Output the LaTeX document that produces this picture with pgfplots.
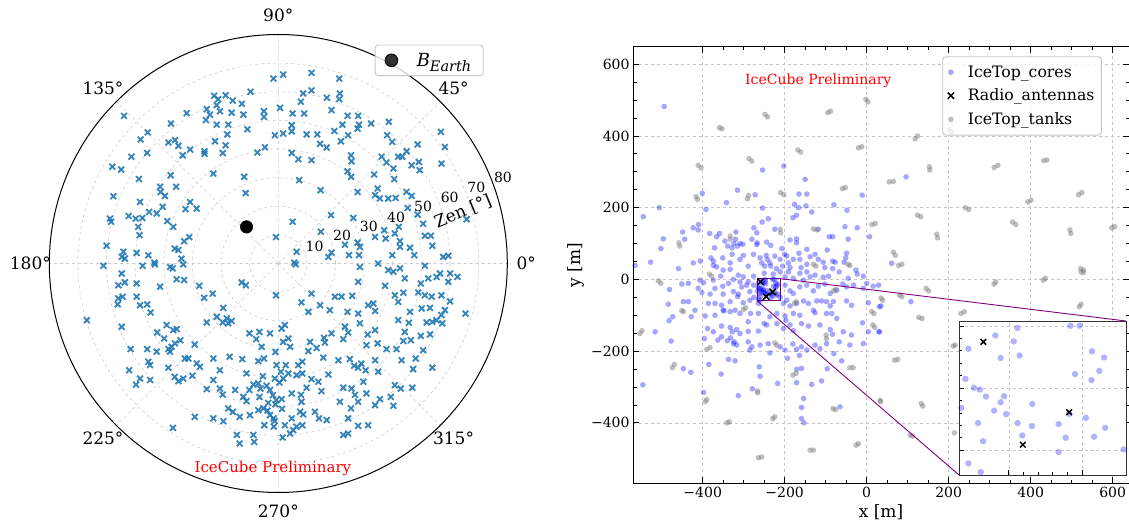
\documentclass[border=0pt]{standalone}
\usepackage{pgfplots}
\pgfplotsset{compat=1.18}
\usepgfplotslibrary{polar}
\usepackage{fontspec}
\setmainfont{DejaVu Serif}
\definecolor{mplblue}{HTML}{1F77B4}
\definecolor{icered}{HTML}{FF0000}
\definecolor{inspurple}{HTML}{800080}
\newcommand{\fs}[1]{\fontsize{#1bp}{#1bp}\selectfont}

\begin{document}
\begin{tikzpicture}
\path[use as bounding box] (0,0) rectangle (1129bp,528bp);

% ---------------- left: arrival directions ----------------
\begin{polaraxis}[
  at={(278.3bp,264.5bp)}, anchor=center,
  scale only axis, width=458bp, height=458bp,
  ymin=0, ymax=80,
  xtick={0,45,...,315}, xticklabels={},
  ytick={10,20,...,70}, yticklabels={},
  tick style={draw=none},
  grid=major,
  major grid style={dashed, gray!40, line width=0.6bp},
  x axis line style={black, line width=1bp},
  y axis line style={draw=none},
  clip=false,
  legend image code/.code={\draw[mark repeat=2, mark phase=2, #1] plot coordinates {(0bp,0bp) (17bp,0bp) (34bp,0bp)};},
  legend style={at={(0.7105,0.978)}, anchor=north west, font=\fs{18},
    draw=black!22, line width=0.9bp, rounded corners=3bp, fill=white,
    fill opacity=0.8, text opacity=1, column sep=17bp,
    inner xsep=10bp, inner ysep=6bp},
]
\addplot[only marks, data cs=cart, mark=x, mark size=4.1bp, forget plot,
  mark options={line width=1.8bp, draw=mplblue, draw opacity=0.9}] table {
x y
-1.7 64.6
-9.7 60.0
-22.4 58.6
-21.0 57.4
-18.4 58.8
-15.9 56.9
-12.7 55.8
-25.0 53.9
-23.9 52.0
-21.5 55.3
-20.4 53.2
-25.3 50.1
-21.5 48.5
-17.5 48.5
-16.3 52.7
-12.2 52.0
-5.0 53.2
-5.0 51.2
-53.9 51.6
-32.0 52.5
-37.5 48.9
-45.6 45.8
-48.1 43.3
-38.4 42.3
-36.1 43.1
-34.9 41.1
-33.4 37.8
-30.8 39.8
-25.8 39.2
-25.8 38.3
-22.1 42.7
-18.4 41.3
-19.4 38.6
-17.8 45.1
-10.8 46.9
-7.3 38.8
-4.7 40.6
-1.2 44.8
-58.0 33.8
-54.9 32.8
-51.3 37.3
-45.8 38.6
-37.6 30.8
-35.7 26.8
-48.7 29.5
-41.3 26.8
-41.1 25.0
-39.6 23.6
-57.6 23.5
-48.3 21.5
-45.1 18.0
-42.5 17.5
-40.4 19.8
-52.3 16.6
-49.8 15.7
-47.5 15.9
-58.8 15.7
-58.4 14.6
-48.9 12.8
-48.5 9.9
-38.8 14.8
-36.7 12.8
-32.4 19.0
-30.8 21.5
-28.5 19.2
-22.7 31.4
-11.9 30.3
-11.4 24.6
-60.0 6.2
-54.1 4.1
-54.7 2.3
-53.6 1.7
-49.5 3.7
-45.4 2.9
-43.3 0.3
-36.2 5.2
-34.9 4.7
-33.8 1.7
-32.9 7.8
-31.1 9.2
-0.8 9.2
1.7 66.0
11.6 66.6
21.3 64.6
11.6 60.5
8.7 59.4
7.9 56.5
21.5 59.4
21.3 57.4
17.0 57.9
18.6 53.6
5.0 52.4
9.0 52.4
0.6 54.4
24.2 51.6
27.9 51.6
28.2 48.5
32.4 48.9
38.6 49.5
22.4 48.5
19.6 46.3
24.4 44.8
27.7 47.1
21.9 42.7
4.7 48.3
1.7 45.4
4.7 46.2
9.9 45.1
13.6 45.1
14.6 41.8
16.9 40.5
38.0 44.8
39.8 42.5
56.8 46.0
58.2 40.7
57.0 34.9
48.7 41.6
44.8 39.2
43.3 37.3
41.9 37.3
36.1 37.3
37.8 35.3
40.2 33.2
46.6 34.3
49.1 35.5
49.4 32.6
4.7 38.6
7.0 36.4
11.6 36.1
25.4 37.8
25.6 35.7
24.2 32.2
25.4 30.3
33.5 31.1
7.3 29.1
14.8 25.6
27.7 25.0
34.7 26.2
33.8 23.9
35.5 22.7
38.4 22.7
41.0 22.9
40.5 29.5
44.8 25.0
46.6 23.6
45.2 19.4
48.7 17.1
50.6 13.9
51.2 9.7
53.3 9.7
53.8 6.2
57.6 2.3
59.4 2.7
65.8 15.5
18.4 16.9
26.2 15.9
5.0 14.6
14.9 11.1
23.3 6.6
27.7 7.3
28.5 5.8
28.2 2.9
33.8 9.3
37.0 11.6
37.5 8.7
40.7 10.5
42.1 12.8
42.5 7.8
42.5 5.8
46.0 5.5
47.5 2.9
39.8 2.9
6.4 4.1
18.6 3.8
17.5 2.3
24.7 2.9
5.6 0.3
-61.1 -0.8
-54.7 -3.5
-47.4 -0.8
-43.1 -0.3
-37.8 -1.2
-36.9 -1.7
-33.2 -0.3
-35.5 -5.5
-32.9 -5.8
-55.9 -7.6
-53.6 -6.6
-49.5 -7.0
-41.3 -8.1
-55.9 -12.2
-54.4 -11.6
-56.1 -14.3
-49.5 -11.6
-48.3 -14.6
-45.8 -14.3
-44.6 -17.1
-66.9 -19.8
-54.7 -22.1
-51.6 -29.9
-45.8 -29.9
-42.5 -30.8
-45.4 -34.3
-44.8 -35.5
-52.1 -37.3
-48.3 -40.2
-49.7 -42.3
-44.8 -40.7
-42.3 -24.1
-39.9 -26.2
-39.0 -21.5
-36.7 -23.3
-35.5 -22.9
-34.2 -26.8
-38.4 -29.9
-37.3 -29.1
-36.1 -27.9
-37.8 -30.8
-38.4 -36.4
-36.2 -39.6
-34.9 -41.1
-33.2 -40.2
-32.6 -33.2
-31.4 -33.2
-29.2 -28.3
-30.0 -39.2
-28.5 -34.9
-27.4 -36.1
-27.6 -7.8
-25.9 -12.0
-22.9 -10.5
-19.2 -15.5
-25.0 -20.6
-21.5 -18.6
-19.4 -20.6
-18.0 -19.2
-17.5 -20.9
-16.3 -20.1
-12.8 -6.6
-11.3 -7.6
-0.8 -11.1
-22.7 -33.2
-20.4 -37.3
-17.0 -32.6
-12.6 -33.4
-11.1 -38.4
-10.1 -24.4
-7.7 -26.4
-6.6 -23.9
-5.8 -29.1
-2.9 -24.4
-7.0 -34.1
-5.0 -33.2
-25.0 -43.9
-22.7 -40.7
-20.4 -43.7
-19.4 -45.8
-15.1 -44.2
-10.1 -44.2
-8.7 -42.3
-7.0 -41.9
-6.2 -43.7
-4.1 -42.7
-2.9 -44.2
-1.2 -40.2
-12.2 -46.6
-11.1 -48.1
-17.5 -50.6
-15.9 -51.8
-13.5 -53.6
-9.9 -53.0
-7.0 -51.2
-5.2 -50.6
-2.9 -53.0
-1.7 -54.1
-22.7 -54.1
-19.2 -55.1
-29.2 -53.6
-36.8 -57.4
-14.5 -59.9
-13.5 -62.9
-8.7 -59.9
-8.4 -62.3
-0.6 -35.5
-1.0 -30.9
-1.9 -46.0
-1.0 -49.2
1.3 -50.8
0.4 -41.6
-3.5 -48.7
-1.6 -57.0
1.5 -60.8
-5.4 -39.4
-0.7 -47.7
-1.3 -55.0
-3.8 -51.4
-4.9 -56.5
-6.6 -46.6
6.1 -0.3
28.5 -1.2
34.9 0.0
38.4 -2.3
40.2 -2.9
42.5 -1.7
44.2 -5.2
27.9 -6.4
37.3 -7.8
43.7 -10.2
40.7 -11.1
41.9 -13.4
48.9 -10.1
51.2 -0.8
49.8 -7.0
52.4 -5.2
55.3 -4.7
56.5 -3.5
60.0 -3.5
62.6 -4.7
59.4 -6.4
51.2 -11.1
53.6 -11.6
57.0 -11.1
60.0 -13.2
58.2 -16.3
57.0 -18.0
55.3 -19.8
57.3 -20.9
53.8 -20.4
51.8 -20.6
50.1 -15.7
53.0 -15.5
65.4 -17.5
46.0 -16.9
41.9 -19.8
45.6 -20.7
44.2 -23.9
46.3 -26.8
49.8 -25.3
53.0 -24.8
50.6 -30.3
48.0 -33.2
47.1 -36.9
53.8 -36.4
43.7 -27.1
41.3 -29.9
43.1 -33.8
37.8 -29.9
34.7 -27.9
33.8 -23.3
31.2 -24.8
30.8 -28.5
27.9 -17.5
28.5 -20.9
31.4 -14.6
33.2 -14.0
33.8 -16.6
24.2 -16.9
23.3 -22.1
24.4 -24.1
22.7 -26.4
25.8 -11.3
22.1 -11.6
19.8 -11.6
18.0 -16.3
14.6 -14.6
11.6 -10.5
8.1 -13.6
10.5 -16.9
2.3 -21.5
1.2 -22.7
4.1 -29.1
1.7 -27.4
11.1 -27.4
10.5 -30.6
13.4 -29.5
16.3 -27.6
15.7 -32.9
18.6 -24.4
21.0 -33.8
25.0 -33.4
27.9 -36.4
26.5 -35.7
30.5 -37.3
34.9 -37.8
33.8 -33.8
40.7 -42.5
42.8 -43.7
46.8 -43.4
39.3 -46.6
40.2 -49.7
33.8 -49.5
35.5 -47.4
30.8 -45.4
29.7 -41.3
27.9 -48.3
26.8 -45.9
25.4 -50.6
25.6 -43.7
22.7 -43.4
21.5 -48.3
17.5 -38.8
14.0 -41.3
15.1 -44.6
11.6 -40.4
9.9 -43.4
7.9 -45.9
4.7 -45.4
7.0 -35.5
8.4 -34.3
2.6 -35.5
0.9 -37.8
1.2 -47.4
8.1 -48.3
7.6 -51.8
8.7 -52.7
12.8 -51.8
14.2 -54.1
16.9 -54.7
4.7 -54.1
5.2 -58.2
2.3 -56.5
8.4 -56.5
24.4 -54.1
27.9 -56.7
31.4 -56.5
22.7 -59.9
24.4 -59.4
3.5 -26.2
3.5 -38.4
1.7 -40.2
6.4 -39.0
8.4 -38.4
4.1 -59.4
6.4 -57.0
29.0 -35.0
16.0 -26.0
}
;
\addplot[only marks, data cs=cart, mark=*, mark size=6.3bp, black] coordinates {(-11.1,12.8)};
\addlegendentry{\textit{B}\raisebox{-0.3em}{\fs{14.5}\textit{Earth}}}

\node[font=\fs{17}] at (axis cs:0,86.6) {0°};
\node[font=\fs{17}] at (axis cs:45,86.6) {45°};
\node[font=\fs{17}] at (axis cs:90,86.6) {90°};
\node[font=\fs{17}] at (axis cs:135,86.6) {135°};
\node[font=\fs{17}] at (axis cs:180,86.6) {180°};
\node[font=\fs{17}] at (axis cs:225,86.6) {225°};
\node[font=\fs{17}] at (axis cs:270,86.6) {270°};
\node[font=\fs{17}] at (axis cs:315,86.6) {315°};
\node[font=\fs{14}] at (axis cs:24.9,14.0) {10};
\node[font=\fs{14}] at (axis cs:23.5,24.3) {20};
\node[font=\fs{14}] at (axis cs:22.4,34.2) {30};
\node[font=\fs{14}] at (axis cs:21.5,44.2) {40};
\node[font=\fs{14}] at (axis cs:21.4,54.3) {50};
\node[font=\fs{14}] at (axis cs:21.1,64.2) {60};
\node[font=\fs{14}] at (axis cs:21.0,74.1) {70};
\node[font=\fs{14}] at (axis cs:20.9,84.0) {80};
\node[font=\fs{17}, rotate=22.5] at (axis cs:15.7,67) {Zen [°]};
\node[font=\fs{15}, text=icered] at (axis cs:268.5,71.8) {IceCube Preliminary};
\end{polaraxis}

% ---------------- right: footprint ----------------
\begin{axis}[
  at={(633bp,44.5bp)}, anchor=south west,
  scale only axis, width=496bp, height=436.5bp,
  xmin=-570, xmax=640, ymin=-569, ymax=648,
  xtick={-400,-200,0,200,400,600},
  xticklabels={−400,−200,0,200,400,600},
  ytick={-400,-200,0,200,400,600},
  yticklabels={−400,−200,0,200,400,600},
  minor x tick num=3, minor y tick num=3,
  tick align=inside, tick pos=both,
  major tick length=6bp, minor tick length=3.5bp,
  tick style={black, line width=0.8bp},
  grid=major,
  major grid style={dashed, gray!45, line width=0.5bp},
  axis line style={line width=1bp},
  ticklabel style={font=\fs{14}},
  xlabel={x [m]}, ylabel={y [m]},
  label style={font=\fs{17}},
  legend cell align=left,
  legend image code/.code={\draw[mark repeat=2, mark phase=2, #1] plot coordinates {(0bp,0bp) (17bp,0bp) (34bp,0bp)};},
  legend style={at={(0.6236,0.9787)}, anchor=north west, font=\fs{15.7},
    draw=black!22, line width=0.9bp, rounded corners=3bp, fill=white,
    fill opacity=0.8, text opacity=1, row sep=6.3bp, column sep=11.7bp,
    inner xsep=5bp, inner ysep=7bp},
]
\addplot[only marks, mark=*, mark size=2.8bp, color=blue,
  mark options={draw opacity=0, fill=blue, fill opacity=0.35}] table {
x y
-494 482
-202 316
-254 305
-150 279
-315 249
-401 240
-272 236
-165 238
-146 238
-11 235
-342 214
-176 209
-506 200
-166 200
-254 199
-80 208
-392 195
-148 205
-48 193
-134 188
-545 175
-171 179
-180 172
-240 169
-255 160
-410 153
-423 144
-411 138
-275 144
-268 130
-224 140
-53 147
-23 144
-449 132
-383 128
-359 128
-319 132
-118 140
-83 119
-91 119
7 119
-496 113
-444 112
-366 119
-346 107
-320 112
-324 100
-309 100
-280 112
-267 102
-244 104
-187 110
-171 113
-45 112
-502 86
-371 88
-339 93
-328 88
-315 93
-302 98
-268 97
-234 95
-207 86
-200 70
-171 102
-146 84
-96 82
-49 73
-380 60
-406 51
-423 46
-374 51
-351 60
-333 46
-328 70
-309 56
-301 67
-276 70
-260 60
-245 67
-242 56
-236 46
-224 65
-211 56
-195 65
-191 46
-179 56
-165 73
-163 56
-146 42
-138 63
-126 70
-118 56
-106 48
-83 51
-77 48
-55 48
-51 60
-26 26
-527 48
-565 39
-459 30
-366 35
-333 28
-289 37
-256 46
-249 37
-234 37
-220 30
-205 37
-187 33
-160 33
-102 33
-83 30
-350 26
-374 39
96 286
61 45
108 -62
35 -74
31 -146
-407 -2
-398 -9
-374 -2
-356 9
-325 0
-313 12
-309 -7
-301 7
-289 -7
-276 9
-250 17
-228 15
-211 21
-199 7
-191 21
-179 3
-163 17
-154 -2
-146 21
-138 7
-126 12
-106 6
-93 9
-67 21
-45 3
-32 -16
-23 15
-8 9
0 -11
16 -19
29 -16
-481 -28
-451 -13
-435 -11
-411 -25
-402 -37
-382 -41
-370 -25
-351 -19
-337 -11
-325 -34
-305 -21
-293 -16
-285 -34
-276 -16
-199 -16
-187 -32
-179 -39
-163 -21
-146 -16
-130 -32
-118 -19
-102 -13
-89 -39
-73 -30
-58 -13
-49 -21
-8 -25
-350 -41
-313 -41
-484 -69
-447 -62
-435 -62
-386 -67
-370 -67
-354 -72
-333 -62
-315 -48
-301 -65
-285 -58
-275 -50
-264 -67
-203 -67
-195 -58
-187 -74
-171 -67
-154 -60
-142 -67
-122 -60
-110 -60
-98 -62
-89 -74
-81 -62
-49 -60
-37 -72
4 -65
31 -76
-482 -115
-473 -104
-419 -86
-428 -104
-394 -102
-370 -100
-348 -87
-333 -90
-321 -86
-309 -95
-289 -118
-264 -95
-250 -123
-236 -104
-219 -95
-199 -102
-179 -95
-163 -100
-130 -86
-126 -93
-98 -95
-85 -95
-73 -109
-10 -121
30 -146
-350 -86
-283 -95
-516 -146
-477 -172
-388 -137
-374 -146
-354 -130
-333 -134
-328 -146
-317 -140
-309 -151
-289 -145
-264 -144
-244 -127
-219 -123
-203 -137
-197 -114
-187 -127
-179 -143
-159 -123
-142 -130
-114 -127
-89 -140
-83 -153
-57 -146
-37 -155
4 -146
-354 -160
-332 -163
-323 -174
-289 -174
-396 -165
-363 -169
-340 -171
-325 -179
-317 -183
-285 -197
-280 -188
-260 -183
-240 -179
-236 -205
-211 -188
-199 -197
-193 -220
-180 -180
-171 -195
-159 -188
-146 -197
-126 -183
-114 -193
-98 -179
-80 -207
-67 -174
-41 -183
-8 -179
-337 -223
-321 -227
-385 -237
-447 -249
-429 -259
-355 -264
-262 -244
-171 -251
-159 -248
-171 -288
-217 -290
-134 -293
-110 -283
-96 -249
-61 -227
-164 -212
-546 -294
-313 -324
-279 -305
-260 -270
-398 -315
-154 -332
-159 -357
-153 -400
-65 -355
-159 -388
-247.1 -0.8
-229.0 0.1
-225.8 0.1
-254.6 -3.8
-248.3 -6.2
-263.8 -9.2
-246.3 -11.9
-252.8 -12.9
-221.6 -10.2
-217.5 -12.7
-227.4 -19.4
-219.1 -18.1
-221.8 -21.8
-264.8 -21.3
-261.9 -24.9
-259.9 -25.6
-257.8 -28.4
-251.6 -28.3
-252.8 -30.7
-266.2 -33.0
-255.0 -34.1
-250.9 -35.5
-242.0 -31.4
-260.5 -39.1
-247.0 -39.1
-242.1 -40.3
-233.0 -39.5
-223.7 -37.0
-217.1 -41.0
-245.4 -44.1
-230.6 -45.0
-220.9 -44.6
-258.8 -46.4
-233.0 -50.8
-210.8 -49.7
-263.8 -55.3
-259.6 -58.8
-229.4 -35.4
};
\addlegendentry{IceTop\_cores}
\addplot[only marks, mark=x, mark size=4.5bp, black, mark options={line width=1.5bp}] coordinates {
(-258.7,-6.4) (-245.2,-47.8) (-229.4,-34.7)};
\addlegendentry{Radio\_antennas}
\addplot[only marks, mark=*, mark size=2.8bp, color=gray,
  mark options={draw opacity=0, fill=gray, fill opacity=0.5}] table {
x y
-359 423
-353 420
-248 460
-242 453
-95 465
-88 469
-2 502
3 495
-411 318
-404 311
-287 337
-280 330
-168 361
-161 355
-20 367
-12 370
-416 231
-413 223
-291 225
-288 234
-210 242
-202 236
-59 253
-52 256
13 153
21 156
-458 102
-456 93
-333 121
-333 112
-211 140
-210 130
-130 141
-122 138
-130 42
-124 37
-45 42
-41 39
118 392
124 400
203 418
208 411
363 426
368 430
153 314
154 305
55 272
65 273
311 312
320 318
432 331
440 333
517 236
525 242
393 216
401 221
241 200
249 195
124 179
132 175
356 160
364 153
496 138
498 128
598 144
605 147
171 126
173 116
65 76
70 67
78 39
86 42
522 30
529 26
-508 -4
-502 -11
-384 15
-378 9
-447 -90
-451 -87
-553 -151
-548 -143
-390 -195
-382 -190
-474 -246
-469 -237
-301 -84
-295 -79
-224 -177
-220 -183
-180 -267
-172 -262
-266 -311
-266 -316
-394 -341
-390 -335
-341 -400
-335 -397
-229 -388
-224 -383
-264 -497
-256 -495
-138 -476
-130 -476
-41 -246
-33 -246
-99 -155
-98 -165
-82 -360
-76 -363
-26 -462
-20 -458
-81 -32
-76 -28
-176 -67
-172 -62
12 -90
18 -95
15 -127
20 -134
33 -337
34 -341
35 -52
39 -58
80 -44
86 -48
145 -25
151 -32
127 -106
135 -109
230 -95
238 -90
311 -13
315 -7
431 -2
436 3
523 21
529 19
519 -76
523 -69
211 -186
216 -183
68 -225
76 -223
133 -346
137 -353
106 -434
112 -437
214 -428
};
\addlegendentry{IceTop\_tanks}
\node[font=\fs{14}, text=icered] at (axis cs:-118,553) {IceCube Preliminary};
\draw[inspurple, line width=0.9bp] (axis cs:-267,-60) rectangle (axis cs:-210,2);
\coordinate (rUR) at (axis cs:-210,2);
\coordinate (rLL) at (axis cs:-267,-60);
\end{axis}

% ---------------- inset ----------------
\begin{axis}[
  at={(959bp,53bp)}, anchor=south west,
  scale only axis, width=167bp, height=154bp,
  xmin=-267, xmax=-210, ymin=-60, ymax=2,
  xtick={-250,-225}, ytick={-50,-25,0},
  xticklabels={}, yticklabels={},
  minor x tick num=4, minor y tick num=4,
  tick align=inside, xtick pos=bottom, ytick pos=left,
  major tick length=5bp, minor tick length=3bp,
  tick style={black, line width=0.7bp},
  grid=major,
  major grid style={dashed, gray!45, line width=0.5bp},
  axis line style={line width=1bp, black!80},
  axis background/.style={fill=white},
]
\addplot[only marks, mark=*, mark size=3.2bp, color=blue,
  mark options={draw opacity=0, fill=blue, fill opacity=0.3}] table {
x y
-247.1 -0.8
-229.0 0.1
-225.8 0.1
-254.6 -3.8
-248.3 -6.2
-263.8 -9.2
-246.3 -11.9
-252.8 -12.9
-221.6 -10.2
-217.5 -12.7
-227.4 -19.4
-219.1 -18.1
-221.8 -21.8
-264.8 -21.3
-261.9 -24.9
-259.9 -25.6
-257.8 -28.4
-251.6 -28.3
-252.8 -30.7
-266.2 -33.0
-255.0 -34.1
-250.9 -35.5
-242.0 -31.4
-260.5 -39.1
-247.0 -39.1
-242.1 -40.3
-233.0 -39.5
-223.7 -37.0
-217.1 -41.0
-245.4 -44.1
-230.6 -45.0
-220.9 -44.6
-258.8 -46.4
-233.0 -50.8
-210.8 -49.7
-263.8 -55.3
-259.6 -58.8
-229.4 -35.4
};
\addplot[only marks, mark=x, mark size=4bp, black, mark options={line width=1.5bp}] coordinates {
(-258.7,-6.4) (-245.2,-47.8) (-229.4,-34.7)};
\coordinate (iUR) at (rel axis cs:1,1);
\coordinate (iLL) at (rel axis cs:0,0);
\end{axis}
\draw[inspurple, line width=0.9bp] (rUR) -- (iUR) (rLL) -- (iLL);
\end{tikzpicture}
\end{document}
